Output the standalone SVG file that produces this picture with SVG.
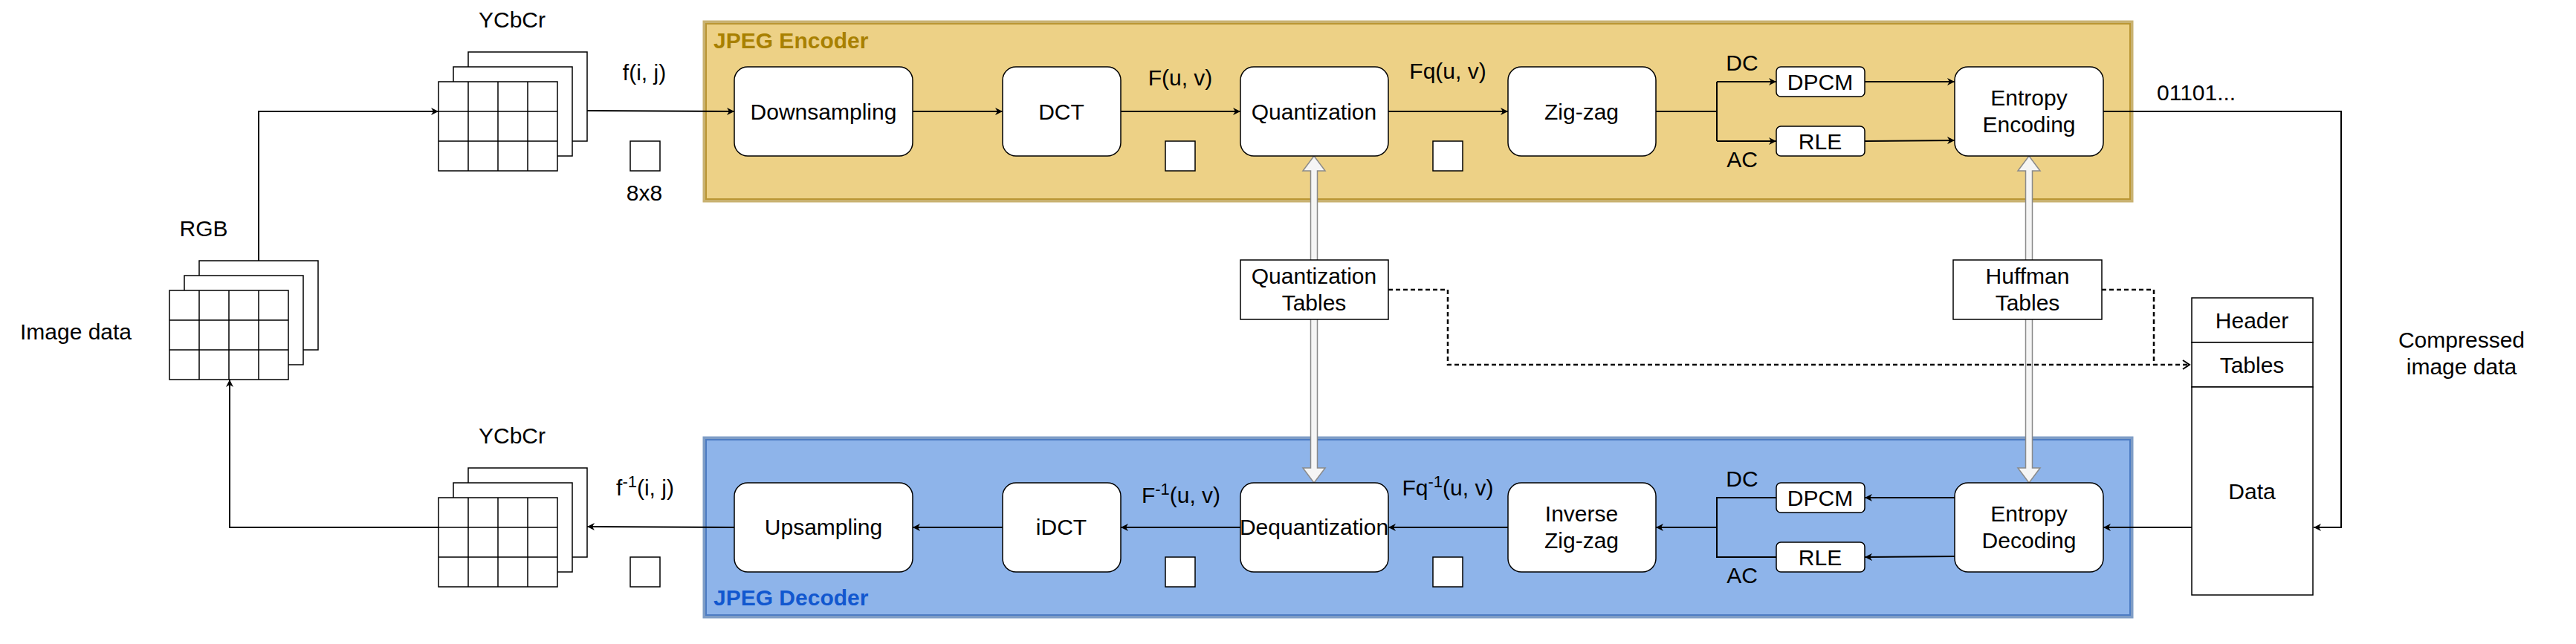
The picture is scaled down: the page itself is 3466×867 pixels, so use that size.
<svg xmlns="http://www.w3.org/2000/svg" width="3466" height="867" viewBox="0 0 3466 867">
<style>
text{font-family:"Liberation Sans",Arial,sans-serif;font-size:30px;fill:#000}
.c{text-anchor:middle}
.node{fill:#fff;stroke:#000;stroke-width:1.5}
.sq{fill:#fff;stroke:#000;stroke-width:1.5}
.ln{fill:none;stroke:#000;stroke-width:2}
.arr{fill:none;stroke:#000;stroke-width:2;marker-end:url(#ah)}
.dash{fill:none;stroke:#000;stroke-width:2.5;stroke-dasharray:6 4}
.gray{fill:#f5f5f5;stroke:#8a8a8a;stroke-width:1.5}
.sup{font-size:22px}
</style>
<defs>
<marker id="ah" markerUnits="userSpaceOnUse" markerWidth="12" markerHeight="10" refX="10" refY="5" orient="auto">
<path d="M0,0 L10,5 L0,10 L3,5 Z" fill="#000"/>
</marker>
<marker id="oh" markerUnits="userSpaceOnUse" markerWidth="12" markerHeight="14" refX="10" refY="7" orient="auto">
<path d="M1,1 L10,7 L1,13" fill="none" stroke="#000" stroke-width="2"/>
</marker>
</defs>
<rect width="3466" height="867" fill="#fff"/>

<g id="encoder">
<rect x="948" y="30" width="1920" height="240" fill="#EDD186" stroke="#C9B271" stroke-width="5"/>
<rect x="950" y="32" width="1916" height="236" fill="none" stroke="#BA9634" stroke-width="2"/>
<text x="960" y="65" style="font-weight:bold;font-size:30px;fill:#A88000">JPEG Encoder</text>
</g>
<g id="decoder">
<rect x="948" y="590" width="1920" height="240" fill="#8EB4EA" stroke="#7F9DC6" stroke-width="5"/>
<rect x="950" y="592" width="1916" height="236" fill="none" stroke="#4D7CC3" stroke-width="2"/>
<text x="960" y="815" style="font-weight:bold;font-size:30px;fill:#1157CF">JPEG Decoder</text>
</g>

<g id="gray-arrows">
<path class="gray" d="M1768,210 L1783,230 L1772.5,230 L1772.5,630 L1783,630 L1768,650 L1753,630 L1763.5,630 L1763.5,230 L1753,230 Z"/>
<path class="gray" d="M2730,210 L2745,230 L2734.5,230 L2734.5,630 L2745,630 L2730,650 L2715,630 L2725.5,630 L2725.5,230 L2715,230 Z"/>
</g>

<g id="connectors">
<path class="arr" d="M348,351 V150 H590"/>
<path class="arr" d="M790,149 L988,150"/>
<path class="arr" d="M1228,150 H1349"/>
<path class="arr" d="M1508,150 H1669"/>
<path class="arr" d="M1868,150 H2029"/>
<path class="ln" d="M2228,150 H2310 M2310,110 V190"/>
<path class="arr" d="M2310,110 H2390"/>
<path class="arr" d="M2310,190 H2390"/>
<path class="arr" d="M2509,110 H2630"/>
<path class="arr" d="M2509,190 L2630,189"/>
<path class="arr" d="M2830,150 H3150 V710 H3113"/>
<path class="arr" d="M2949,710 H2830"/>
<path class="arr" d="M2630,670 H2509"/>
<path class="arr" d="M2630,749 L2509,750"/>
<path class="ln" d="M2390,670 H2310 V750 H2390"/>
<path class="arr" d="M2310,710 H2228"/>
<path class="arr" d="M2029,710 H1868"/>
<path class="arr" d="M1669,710 H1508"/>
<path class="arr" d="M1349,710 H1228"/>
<path class="arr" d="M988,710 L790,709"/>
<path class="arr" d="M590,710 H309 V511"/>
<path class="dash" d="M1868,390 H1948 V491 H2946" marker-end="url(#oh)"/>
<path class="dash" d="M2828,390 H2898 V491"/>
</g>

<g id="rgb-stack">
<rect class="sq" x="268" y="351" width="160" height="120"/>
<rect class="sq" x="248" y="371" width="160" height="120"/>
<rect class="sq" x="228" y="391" width="160" height="120"/>
<path class="ln" style="stroke-width:1.5" d="M268,391 V511 M308,391 V511 M348,391 V511 M228,431 H388 M228,471 H388"/>
<text class="c" x="274" y="318">RGB</text>
<text class="c" x="102" y="457">Image data</text>
</g>

<g id="ycbcr-enc">
<rect class="sq" x="630" y="70" width="160" height="120"/>
<rect class="sq" x="610" y="90" width="160" height="120"/>
<rect class="sq" x="590" y="110" width="160" height="120"/>
<path class="ln" style="stroke-width:1.5" d="M630,110 V230 M670,110 V230 M710,110 V230 M590,150 H750 M590,190 H750"/>
<text class="c" x="689" y="37">YCbCr</text>
</g>

<g id="ycbcr-dec">
<rect class="sq" x="630" y="630" width="160" height="120"/>
<rect class="sq" x="610" y="650" width="160" height="120"/>
<rect class="sq" x="590" y="670" width="160" height="120"/>
<path class="ln" style="stroke-width:1.5" d="M630,670 V790 M670,670 V790 M710,670 V790 M590,710 H750 M590,750 H750"/>
<text class="c" x="689" y="597">YCbCr</text>
</g>

<g id="labels">
<text class="c" x="867" y="108">f(i, j)</text>
<rect class="sq" x="848" y="190" width="40" height="40"/>
<text class="c" x="867" y="270">8x8</text>
<text class="c" x="1588" y="115">F(u, v)</text>
<rect class="sq" x="1568" y="190" width="40" height="40"/>
<text class="c" x="1948" y="106">Fq(u, v)</text>
<rect class="sq" x="1928" y="190" width="40" height="40"/>
<text class="c" x="2344" y="95">DC</text>
<text class="c" x="2344" y="225">AC</text>
<text x="2902" y="135">01101...</text>
<text class="c" x="868" y="667">f<tspan class="sup" dy="-11">-1</tspan><tspan dy="11">(i, j)</tspan></text>
<rect class="sq" x="848" y="750" width="40" height="40"/>
<text class="c" x="1589" y="677">F<tspan class="sup" dy="-11">-1</tspan><tspan dy="11">(u, v)</tspan></text>
<rect class="sq" x="1568" y="750" width="40" height="40"/>
<text class="c" x="1948" y="667">Fq<tspan class="sup" dy="-11">-1</tspan><tspan dy="11">(u, v)</tspan></text>
<rect class="sq" x="1928" y="750" width="40" height="40"/>
<text class="c" x="2344" y="655">DC</text>
<text class="c" x="2344" y="785">AC</text>
<text class="c" x="3312" y="468">Compressed</text>
<text class="c" x="3312" y="504">image data</text>
</g>

<g id="downsampling"><rect class="node" x="988" y="90" width="240" height="120" rx="18"/><text class="c" x="1108" y="161">Downsampling</text></g>
<g id="dct"><rect class="node" x="1349" y="90" width="159" height="120" rx="18"/><text class="c" x="1428" y="161">DCT</text></g>
<g id="quantization"><rect class="node" x="1669" y="90" width="199" height="120" rx="18"/><text class="c" x="1768" y="161">Quantization</text></g>
<g id="zigzag"><rect class="node" x="2029" y="90" width="199" height="120" rx="18"/><text class="c" x="2128" y="161">Zig-zag</text></g>
<g id="dpcm-enc"><rect class="node" x="2390" y="90" width="119" height="40" rx="6"/><text class="c" x="2449" y="121">DPCM</text></g>
<g id="rle-enc"><rect class="node" x="2390" y="170" width="119" height="40" rx="6"/><text class="c" x="2449" y="201">RLE</text></g>
<g id="entropy-enc"><rect class="node" x="2630" y="90" width="200" height="120" rx="18"/><text class="c" x="2730" y="142">Entropy</text><text class="c" x="2730" y="178">Encoding</text></g>

<g id="upsampling"><rect class="node" x="988" y="650" width="240" height="120" rx="18"/><text class="c" x="1108" y="720">Upsampling</text></g>
<g id="idct"><rect class="node" x="1349" y="650" width="159" height="120" rx="18"/><text class="c" x="1428" y="720">iDCT</text></g>
<g id="dequantization"><rect class="node" x="1669" y="650" width="199" height="120" rx="18"/><text class="c" x="1768" y="720">Dequantization</text></g>
<g id="inverse-zigzag"><rect class="node" x="2029" y="650" width="199" height="120" rx="18"/><text class="c" x="2128" y="702">Inverse</text><text class="c" x="2128" y="738">Zig-zag</text></g>
<g id="dpcm-dec"><rect class="node" x="2390" y="650" width="119" height="40" rx="6"/><text class="c" x="2449" y="681">DPCM</text></g>
<g id="rle-dec"><rect class="node" x="2390" y="730" width="119" height="40" rx="6"/><text class="c" x="2449" y="761">RLE</text></g>
<g id="entropy-dec"><rect class="node" x="2630" y="650" width="200" height="120" rx="18"/><text class="c" x="2730" y="702">Entropy</text><text class="c" x="2730" y="738">Decoding</text></g>

<g id="quant-tables"><rect class="node" x="1669" y="350" width="199" height="80"/><text class="c" x="1768" y="382">Quantization</text><text class="c" x="1768" y="418">Tables</text></g>
<g id="huffman-tables"><rect class="node" x="2628" y="350" width="200" height="80"/><text class="c" x="2728" y="382">Huffman</text><text class="c" x="2728" y="418">Tables</text></g>

<g id="compressed">
<rect class="node" x="2949" y="401" width="163" height="60"/>
<rect class="node" x="2949" y="461" width="163" height="60"/>
<rect class="node" x="2949" y="521" width="163" height="280"/>
<text class="c" x="3030" y="442">Header</text>
<text class="c" x="3030" y="502">Tables</text>
<text class="c" x="3030" y="672">Data</text>
</g>
</svg>
